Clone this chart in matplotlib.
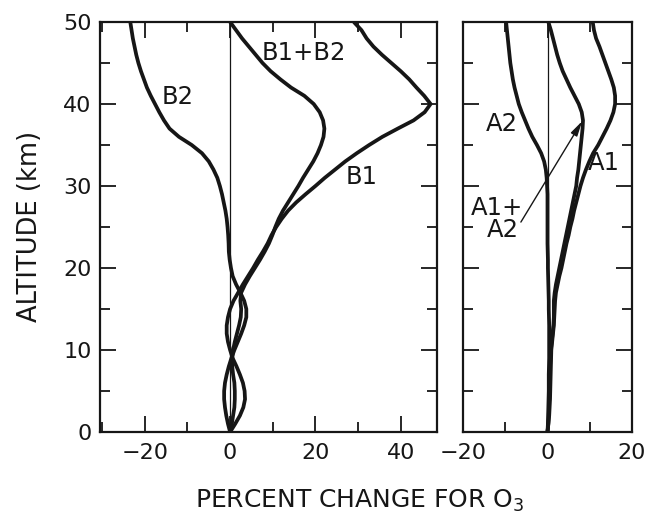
import matplotlib

matplotlib.use("Agg")
import matplotlib.pyplot as plt
from matplotlib.ticker import MultipleLocator

# altitude grid (km) and percent change for O3
alt = [50, 49, 48, 47, 46, 45, 44, 43, 42, 41, 40, 39, 38, 37, 36, 35, 34,
       33, 32, 31, 30, 29, 28, 27, 26, 25, 24, 23, 22, 21, 20, 19, 18, 17,
       16, 15, 14, 13, 12, 11, 10, 9, 8, 7, 6, 5, 4, 3, 2, 1, 0]

b2 = [-23.4, -23.1, -22.8, -22.4, -22.0, -21.5, -20.9, -20.2, -19.5, -18.6,
      -17.6, -16.6, -15.5, -14.2, -12.0, -9.0, -6.6, -5.0, -3.9, -3.0, -2.4,
      -1.9, -1.5, -1.1, -0.8, -0.6, -0.45, -0.35, -0.3, -0.1, 0.2, 0.6, 1.4,
      2.4, 3.3, 3.8, 3.8, 3.3, 2.6, 1.8, 1.0, 0.3, -0.3, -0.8, -1.2, -1.4,
      -1.4, -1.2, -0.9, -0.5, 0.0]
b1 = [29.0, 30.8, 32.0, 33.6, 35.6, 37.8, 40.0, 42.0, 43.7, 45.5, 47.0, 45.6,
      43.0, 39.3, 35.7, 32.6, 29.7, 27.0, 24.6, 22.2, 20.0, 17.7, 15.5, 13.6,
      12.1, 10.8, 9.7, 8.8, 7.7, 6.5, 5.4, 4.2, 3.0, 1.9, 0.8, 0.0, -0.5,
      -0.8, -0.8, -0.5, 0.0, 0.6, 1.5, 2.3, 3.0, 3.4, 3.5, 3.1, 2.3, 1.2, 0.0]
b1_b2 = [0.0, 1.4, 2.8, 4.4, 6.0, 7.6, 9.5, 11.8, 14.3, 17.4, 19.6, 21.0,
         21.8, 22.1, 21.9, 21.3, 20.5, 19.5, 18.3, 17.1, 16.0, 14.8, 13.6,
         12.4, 11.4, 10.6, 9.9, 9.1, 8.1, 7.0, 5.8, 4.6, 3.5, 2.6, 2.4, 2.6,
         2.5, 2.1, 1.6, 1.1, 0.7, 0.5, 0.5, 0.7, 1.0, 1.1, 1.1, 1.0, 0.7, 0.4,
         0.0]

a2 = [-9.8, -9.6, -9.4, -9.2, -9.0, -8.8, -8.5, -8.2, -7.8, -7.3, -6.8, -6.1,
      -5.3, -4.5, -3.6, -2.5, -1.5, -0.8, -0.4, -0.2, -0.1, 0.0, 0.0, 0.0,
      0.0, 0.0, 0.0, 0.0, 0.05, 0.1, 0.1, 0.15, 0.2, 0.25, 0.3, 0.3, 0.35,
      0.4, 0.4, 0.4, 0.4, 0.4, 0.35, 0.3, 0.3, 0.3, 0.25, 0.2, 0.15, 0.1, 0.0]
a1_a2 = [0.2, 0.8, 1.3, 1.8, 2.3, 2.9, 3.6, 4.5, 5.4, 6.4, 7.4, 8.1, 8.4, 8.3,
         8.1, 7.9, 7.7, 7.5, 7.3, 7.0, 6.8, 6.4, 6.0, 5.6, 5.2, 4.8, 4.4, 4.0,
         3.6, 3.2, 2.8, 2.4, 2.0, 1.7, 1.5, 1.5, 1.5, 1.4, 1.2, 1.0, 0.8, 0.7,
         0.6, 0.55, 0.5, 0.45, 0.4, 0.35, 0.3, 0.2, 0.0]
a1 = [10.7, 11.0, 11.5, 12.3, 13.0, 13.7, 14.4, 15.1, 15.7, 16.0, 16.0, 15.6,
      14.9, 14.0, 13.0, 12.0, 10.8, 9.9, 9.1, 8.4, 7.8, 7.3, 6.8, 6.3, 5.9,
      5.4, 5.0, 4.5, 4.1, 3.7, 3.3, 2.8, 2.4, 2.0, 1.8, 1.7, 1.6, 1.5, 1.3,
      1.1, 0.9, 0.85, 0.8, 0.75, 0.7, 0.65, 0.6, 0.5, 0.4, 0.2, 0.0]

INK = "#161616"
plt.rcParams["font.family"] = "DejaVu Sans"
plt.rcParams["mathtext.fontset"] = "dejavusans"

fig = plt.figure(figsize=(6.49, 5.14), dpi=100)
ax_b = fig.add_axes([100 / 649, 82 / 514, 337 / 649, 410 / 514])
ax_a = fig.add_axes([463 / 649, 82 / 514, 169 / 649, 410 / 514])


def style(ax, xlim):
    ax.set_xlim(*xlim)
    ax.set_ylim(0, 50)
    ax.xaxis.set_major_locator(MultipleLocator(20))
    ax.xaxis.set_minor_locator(MultipleLocator(10))
    ax.yaxis.set_major_locator(MultipleLocator(10))
    ax.yaxis.set_minor_locator(MultipleLocator(5))
    ax.tick_params(which="both", direction="in", top=True, right=True,
                   width=1.3, color=INK, labelsize=16, labelcolor=INK)
    ax.tick_params(which="major", length=11.5)
    ax.tick_params(which="minor", length=7.5)
    ax.tick_params(axis="x", pad=8)
    ax.tick_params(axis="y", pad=6)
    for s in ax.spines.values():
        s.set_linewidth(1.6)
        s.set_color(INK)
    ax.axvline(0, color=INK, lw=0.9, zorder=1)


style(ax_b, (-30.5, 48.5))
style(ax_a, (-20, 20))
ax_a.set_yticklabels([])

curve = dict(color=INK, lw=2.7, solid_capstyle="butt", zorder=3)
ax_b.plot(b2, alt, **curve)
ax_b.plot(b1, alt, **curve)
ax_b.plot(b1_b2, alt, **curve)
ax_a.plot(a2, alt, **curve)
ax_a.plot(a1_a2, alt, **curve)
ax_a.plot(a1, alt, **curve)

lab = dict(fontsize=17.5, color=INK, ha="center", va="center")
ax_b.text(-12.2, 40.9, "B2", **lab)
ax_b.text(17.2, 46.2, "B1+B2", **lab)
ax_b.text(30.8, 31.1, "B1", **lab)
ax_a.text(-10.9, 37.6, "A2", **lab)
ax_a.text(13.3, 32.8, "A1", **lab)
ax_a.text(-12.0, 27.3, "A1+", **lab)
ax_a.text(-10.6, 24.6, "A2", **lab)
ax_a.annotate("", xy=(8.2, 37.9), xytext=(-6.3, 25.6),
              arrowprops=dict(arrowstyle="-|>,head_length=0.9,head_width=0.22",
                              lw=1.0, color=INK, shrinkA=0, shrinkB=0))

fig.text(30 / 649, 1 - 226 / 514, "ALTITUDE (km)", fontsize=18.5, color=INK,
         rotation=90, ha="center", va="center")
fig.text(360 / 649, 1 - 501 / 514, "PERCENT CHANGE FOR O$_3$", fontsize=18,
         color=INK, ha="center", va="center")

fig.savefig("out.png", dpi=100)
